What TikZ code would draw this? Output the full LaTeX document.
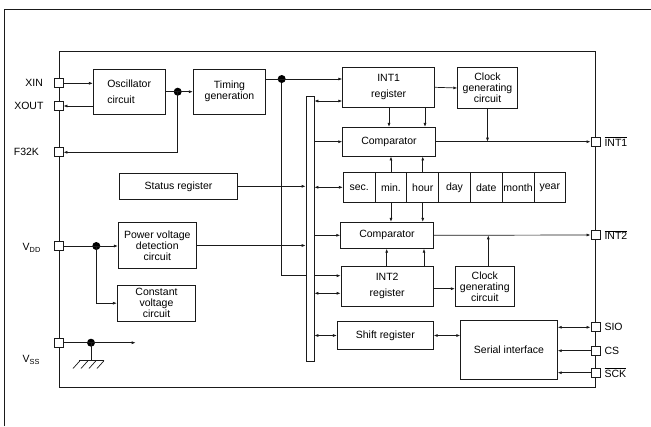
\documentclass[tikz,border=0pt]{standalone}
\usepackage{fontspec}
\setmainfont{Liberation Sans}
\usetikzlibrary{positioning,calc,arrows.meta,backgrounds}
\definecolor{inkline}{HTML}{1a1a1a}

\begin{document}
\begin{tikzpicture}[x=1pt, y=-1pt,
  font=\fontsize{10.5}{11}\selectfont,
  blk/.style={draw=inkline, line width=0.8pt, fill=white, inner sep=1pt, align=center},
  pinsq/.style={draw=inkline, line width=0.7pt, fill=white, minimum size=9pt, inner sep=0pt},
  wire/.style={draw=inkline, line width=0.7pt},
  arr/.style={wire, -{Latex[length=4pt,width=3pt]}},
  dbl/.style={wire, {Latex[length=4pt,width=3pt]}-{Latex[length=4pt,width=3pt]}},
  junc/.style={circle, fill=black, inner sep=0pt, minimum size=8pt},
  cell/.style={draw=inkline, line width=0.8pt, minimum width=31.8pt, minimum height=30.7pt, inner sep=0pt}]
  \useasboundingbox (0,0) rectangle (651,426);
  \draw[wire] (4.5,426) |- (651,9);

  % chip outline
  \node[draw=inkline, line width=0.8pt, minimum width=536pt, minimum height=336.5pt, inner sep=0pt] (chip) at (327,219.25) {};

  % function blocks
  \node[blk, minimum width=71.7pt, minimum height=44.7pt, align=left] (osc) at (129.2,91.7) {Oscillator\\[5pt]circuit};
  \node[blk, minimum width=72.4pt, minimum height=44.7pt] (timing) at (229.5,91.7) {Timing\\generation};
  \node[blk, minimum width=92pt, minimum height=40pt] (int1reg) at (388.7,87.3) {INT1\\[5pt]register};
  \node[blk, minimum width=59.6pt, minimum height=40.6pt] (clk1) at (487.5,88) {Clock\\generating\\circuit};
  \node[blk, minimum width=92.6pt, minimum height=28.7pt] (cmp1) at (389,141.7) {Comparator};
  \node[blk, minimum width=92.6pt, minimum height=26pt] (cmp2) at (387,235.3) {Comparator};
  \node[blk, minimum width=92.3pt, minimum height=40.7pt] (int2reg) at (387.2,286.3) {INT2\\[5pt]register};
  \node[blk, minimum width=59pt, minimum height=40.7pt] (clk2) at (484.8,286.3) {Clock\\generating\\circuit};
  \node[blk, minimum width=96pt, minimum height=27.6pt] (shift) at (385.3,335.5) {Shift register};
  \node[blk, minimum width=96.6pt, minimum height=59.3pt] (serial) at (509,349.7) {Serial interface};
  \node[blk, minimum width=118.4pt, minimum height=26pt] (status) at (178.5,186.3) {Status register};
  \node[blk, minimum width=78pt, minimum height=46.4pt] (pvd) at (157.3,245.5) {Power voltage\\detection\\circuit};
  \node[blk, minimum width=78.4pt, minimum height=35.7pt] (cvc) at (156.5,303.2) {Constant\\voltage\\circuit};

  % time counter row
  \foreach \nm/\txt [count=\k from 0] in {sec/sec.,min/min.,hour/hour,day/day,date/date,month/month,year/year}
    \node[cell] (\nm) at ({359.2+31.77*\k},187.3) {\txt};

  % pins
  \node[pinsq] (xin) at (chip.west |- 0,83.3) {};
  \node[pinsq] (xout) at (chip.west |- 0,106) {};
  \node[pinsq] (f32k) at (chip.west |- 0,152.3) {};
  \node[pinsq] (vdd) at (chip.west |- 0,246) {};
  \node[pinsq] (vss) at (chip.west |- 0,342.7) {};
  \node[pinsq] (int1) at (chip.east |- 0,141.7) {};
  \node[pinsq] (int2) at (chip.east |- 0,235) {};
  \node[pinsq] (sio) at (chip.east |- 0,327.3) {};
  \node[pinsq] (cs) at (chip.east |- 0,350.7) {};
  \node[pinsq] (sck) at (chip.east |- 0,372.7) {};

  % pin names
  \node[anchor=east] (lxin) at (46.5,83.3) {XIN};
  \node[anchor=east] (lxout) at (47,106) {XOUT};
  \node[anchor=east] (lf32k) at (42.5,152.3) {F32K};
  \node[anchor=west, inner sep=0pt] (lvdd) at (22.5,248) {V\textsubscript{DD}};
  \node[anchor=west, inner sep=0pt] (lvss) at (22.5,360) {V\textsubscript{SS}};
  \node[anchor=west] (lint1) at (601,141.7) {$\overline{\hbox{INT1}}$};
  \node[anchor=west] (lint2) at (601,235) {$\overline{\hbox{INT2}}$};
  \node[anchor=west] (lsio) at (601,327.3) {SIO};
  \node[anchor=west] (lcs) at (601,350.7) {CS};
  \node[anchor=west] (lsck) at (601,372.7) {$\overline{\hbox{SCK}}$};

  % junction dots
  \node[junc] (j1) at (177.7,91.7) {};
  \node[junc] (j2) at (281.7,79) {};
  \node[junc] (j3) at (96.3,246) {};
  \node[junc] (j4) at (91,342.7) {};
  \coordinate (vssend) at (135.7,342.7);
  \coordinate (gnd) at (91,360.7);

  % oscillator and timing
  \draw[arr] (xin.east) -- (osc.west |- xin.east);
  \draw[arr] (osc.west |- xout.east) -- (xout.east);
  \draw[arr] (osc.east) -- (timing.west);
  \draw[arr] (j1.center) |- (f32k.east);
  \draw[arr] (timing.east |- j2) -- (int1reg.west |- j2);
  \begin{scope}[on background layer]
    \draw[arr] (j2.center) |- (int2reg.west |- 0,275.7);
  \end{scope}

  % INT1 side
  \draw[arr] (int1reg.east) -- (clk1.west);
  \draw[arr] (clk1.south) -- (clk1.south |- cmp1.east);
  \draw[arr] (cmp1.east) -- (int1.west);
  \foreach \x in {389,425}
    \draw[arr] (\x,0 |- int1reg.south) -- (\x,0 |- cmp1.north);
  \draw[arr] (min.north) -- (min.north |- cmp1.south);
  \draw[arr] (hour.north) -- (hour.north |- cmp1.south);

  % INT2 side
  \draw[arr] (min.south) -- (min.south |- cmp2.north);
  \draw[arr] (hour.south) -- (hour.south |- cmp2.north);
  \foreach \x in {386.7,424}
    \draw[arr] (\x,0 |- int2reg.north) -- (\x,0 |- cmp2.south);
  \draw[arr] (int2reg.east |- 0,288.7) -- (clk2.west |- 0,288.7);
  \draw[arr] (488.3,0 |- clk2.north) -- (488.3,0 |- cmp2.east);
  \draw[arr] (cmp2.east) -- (int2.west);

  % serial part
  \draw[dbl] (shift.east) -- (serial.west |- shift.east);
  \draw[dbl] (serial.east |- sio) -- (sio.west);
  \draw[arr] (cs.west) -- (serial.east |- cs);
  \draw[arr] (sck.west) -- (serial.east |- sck);

  % power
  \draw[arr] (vdd.east) -- (pvd.west |- vdd.east);
  \draw[arr] (j3.center) |- (cvc.west);
  \draw[arr] (vss.east) -- (vssend);
  \draw[wire] (j4.center) -- (gnd);
  \draw[wire] (79,360.7) -- (104,360.7);
  \foreach \x in {82,90,98,106}
    \draw[wire] (\x-2,360.7) -- (\x-9,368.5);

  % internal bus
  \node[draw=inkline, line width=0.7pt, fill=white, minimum width=8pt, minimum height=265pt, inner sep=0pt] (bus) at (310,228.5) {};
  \draw[dbl] (bus.east |- 0,101) -- (int1reg.west |- 0,101);
  \draw[arr] (bus.east |- cmp1.west) -- (cmp1.west);
  \draw[dbl] (bus.east |- sec.west) -- (sec.west);
  \draw[arr] (status.east) -- (bus.west |- status.east);
  \draw[arr] (bus.east |- cmp2.west) -- (cmp2.west);
  \draw[arr] (pvd.east) -- (bus.west |- pvd.east);
  \draw[dbl] (bus.east |- 0,293.3) -- (int2reg.west |- 0,293.3);
  \draw[dbl] (bus.east |- shift.west) -- (shift.west);
\end{tikzpicture}
\end{document}
